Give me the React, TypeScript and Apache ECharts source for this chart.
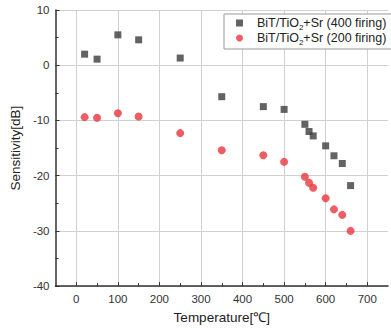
import React, { useEffect, useRef } from "react";
import * as echarts from "echarts";

const temps400 = [20, 50, 100, 150, 250, 350, 450, 500, 550, 560, 570, 600, 620, 640, 660];
const sens400 = [2.0, 1.1, 5.5, 4.6, 1.3, -5.7, -7.5, -8.0, -10.7, -12.0, -12.8, -14.6, -16.4, -17.8, -21.8];
const temps200 = [20, 50, 100, 150, 250, 350, 450, 500, 550, 560, 570, 600, 620, 640, 660];
const sens200 = [-9.4, -9.5, -8.7, -9.3, -12.3, -15.4, -16.3, -17.5, -20.2, -21.3, -22.2, -24.1, -26.1, -27.1, -30.0];
const xMajorTicks = [0, 100, 200, 300, 400, 500, 600, 700];
const xMinorTicks = [50, 150, 250, 350, 450, 550, 650];
const seriesNames = ["BiT/TiO2+Sr (400 firing)", "BiT/TiO2+Sr (200 firing)"];

const FONT = "'Liberation Sans', Arial, sans-serif";

export default function App() {
  const ref = useRef<HTMLDivElement>(null);
  useEffect(() => {
    if (!ref.current) return;
    const chart = echarts.init(ref.current, undefined, { renderer: "svg" });
    const pairs = (xs: number[], ys: number[]) => xs.map((x, i) => [x, ys[i]]);
    chart.setOption({
      animation: false,
      textStyle: { fontFamily: FONT },
      grid: { left: 54, top: 10, bottom: 42, right: -7 },
      legend: {
        orient: "vertical",
        left: 224,
        top: 14,
        z: 10,
        padding: [2, 8, 3, 12],
        itemGap: 0,
        itemWidth: 7,
        itemHeight: 7,
        backgroundColor: "#fff",
        borderColor: "#999",
        borderWidth: 1,
        borderRadius: 0,
        data: [
          { name: seriesNames[0], icon: "rect" },
          { name: seriesNames[1], icon: "circle" },
        ],
        formatter: (name: string) => {
          const rest = name.replace("BiT/TiO2", "");
          return "{a|BiT/TiO}{s|2}{a|" + rest + "}";
        },
        textStyle: {
          fontFamily: FONT,
          color: "#222",
          padding: [0, 0, 0, 9],
          rich: {
            a: { fontSize: 12.5, lineHeight: 14, verticalAlign: "top", color: "#222", fontFamily: FONT },
            s: { fontSize: 8, lineHeight: 8, padding: [7, 0, 0, 0], verticalAlign: "top", color: "#222", fontFamily: FONT },
          },
        },
      },
      xAxis: [
        {
          type: "value",
          min: -50,
          max: 750,
          interval: 50,
          name: "Temperature[℃]",
          nameLocation: "middle",
          nameGap: 23,
          nameTextStyle: { fontSize: 13.5, color: "#222", fontFamily: FONT },
          axisLine: { show: true, onZero: false, lineStyle: { color: "#333", width: 1.5 } },
          axisTick: { show: true, inside: true, length: 4, customValues: xMajorTicks, lineStyle: { color: "#333" } },
          axisLabel: {
            color: "#333",
            fontSize: 11.5,
            margin: 7,
            fontFamily: FONT,
            formatter: (v: number) => (xMajorTicks.indexOf(v) >= 0 ? String(v) : ""),
          },
          splitLine: { show: false },
        },
        {
          type: "value",
          min: -50,
          max: 750,
          position: "bottom",
          axisLine: { show: false, onZero: false },
          axisTick: { show: true, inside: true, length: 3, customValues: xMinorTicks, lineStyle: { color: "#333" } },
          axisLabel: { show: false },
          splitLine: { show: false },
        },
      ],
      yAxis: {
        type: "value",
        min: -40,
        max: 10,
        interval: 10,
        name: "Sensitivity[dB]",
        nameLocation: "middle",
        nameGap: 28,
        nameTextStyle: { fontSize: 13.5, color: "#222", fontFamily: FONT },
        axisLine: { show: true, onZero: false, lineStyle: { color: "#333", width: 1.5 } },
        axisTick: { show: true, inside: true, length: 4, lineStyle: { color: "#333" } },
        minorTick: { show: true, splitNumber: 2, length: 3, lineStyle: { color: "#333" } },
        axisLabel: { color: "#333", fontSize: 11.5, margin: 6, fontFamily: FONT },
        splitLine: { show: true, lineStyle: { color: "#d0d0d0", width: 1 } },
      },
      series: [
        {
          name: "grid",
          type: "line",
          data: [],
          silent: true,
          z: 0,
          markLine: {
            silent: true,
            z: 0,
            symbol: ["none", "none"],
            label: { show: false },
            lineStyle: { color: "#d0d0d0", width: 1, type: "solid" },
            emphasis: { disabled: true },
            data: xMajorTicks.map((v) => ({ xAxis: v })),
          },
        },
        {
          name: seriesNames[0],
          type: "scatter",
          symbol: "rect",
          symbolSize: 7,
          itemStyle: { color: "#3c3c3c" },
          data: pairs(temps400, sens400),
          z: 3,
        },
        {
          name: seriesNames[1],
          type: "scatter",
          symbol: "circle",
          symbolSize: 8,
          itemStyle: { color: "#e8353d" },
          data: pairs(temps200, sens200),
          z: 3,
        },
      ],
    });
    return () => chart.dispose();
  }, []);
  return (
    <div
      ref={ref}
      style={{ position: "fixed", left: 0, top: 0, width: 391, height: 329, background: "#fff" }}
    />
  );
}
